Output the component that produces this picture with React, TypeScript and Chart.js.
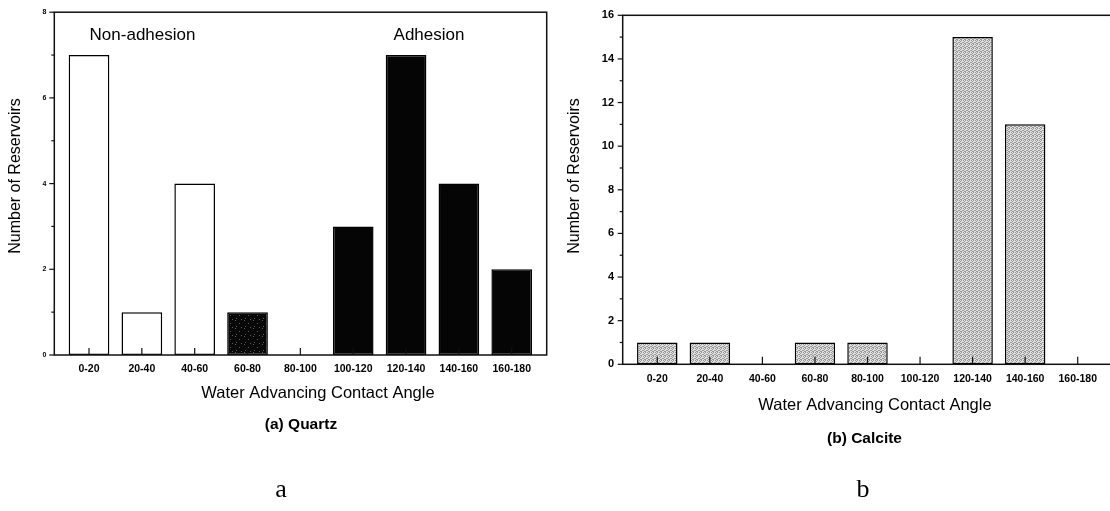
import { useEffect, useRef } from 'react';
import { Chart, registerables } from 'chart.js';

Chart.register(...registerables);

// Contact-angle bins shared by both panels
const angleBins = ['0-20', '20-40', '40-60', '60-80', '80-100', '100-120', '120-140', '140-160', '160-180'];

// Number of reservoirs per bin
const quartzCounts = [7, 1, 4, 1, 0, 3, 7, 4, 2];
const calciteCounts = [1, 1, 0, 1, 1, 0, 15, 11, 0];

// Wetting class of each quartz bin: open = non-adhesion, solid = adhesion, mixed = transitional
const quartzClass = ['open', 'open', 'open', 'mixed', 'open', 'solid', 'solid', 'solid', 'solid'];

const quartzYMax = 8;
const calciteYMax = 16;

const SANS = '"Liberation Sans", Arial, Helvetica, sans-serif';
const SERIF = '"Liberation Serif", "Times New Roman", serif';

function makePattern(w: number, h: number, base: string, dots: [number, number][], dot: string) {
  const c = document.createElement('canvas');
  c.width = w;
  c.height = h;
  const g = c.getContext('2d')!;
  g.fillStyle = base;
  g.fillRect(0, 0, w, h);
  g.fillStyle = dot;
  dots.forEach(([x, y]) => g.fillRect(x, y, 1, 1));
  return g.createPattern(c, 'repeat')!;
}

type TextItem = { text: string; x: number; y: number; font: string; rotate?: boolean; baseline?: CanvasTextBaseline };

type DecorCfg = {
  yMax: number;
  xTickLen: number;
  texts: TextItem[];
};

function makeDecor(cfg: DecorCfg) {
  return {
    id: 'panelDecor',
    afterDraw(chart: any) {
      const { ctx, chartArea } = chart;
      const xs = chart.scales.x;
      const ys = chart.scales.y;
      ctx.save();
      ctx.strokeStyle = '#111';
      ctx.lineWidth = 1.5;
      // frame around the plot
      ctx.strokeRect(chartArea.left, chartArea.top, chartArea.right - chartArea.left, chartArea.bottom - chartArea.top);
      // y tick marks: long at labelled values, short in between
      ctx.lineWidth = 1.2;
      for (let v = 0; v <= cfg.yMax; v++) {
        const py = ys.getPixelForValue(v);
        const len = v % 2 === 0 ? 5 : 3;
        ctx.beginPath();
        ctx.moveTo(chartArea.left - len, py);
        ctx.lineTo(chartArea.left, py);
        ctx.stroke();
      }
      // x tick marks pointing up into the plot at each bin centre
      angleBins.forEach((_, i) => {
        const px = xs.getPixelForValue(i);
        ctx.beginPath();
        ctx.moveTo(px, chartArea.bottom);
        ctx.lineTo(px, chartArea.bottom - cfg.xTickLen);
        ctx.stroke();
      });
      // annotations and captions
      ctx.fillStyle = '#000';
      ctx.textAlign = 'center';
      cfg.texts.forEach((t) => {
        ctx.font = t.font;
        ctx.textBaseline = t.baseline || 'middle';
        if (t.rotate) {
          ctx.save();
          ctx.translate(t.x, t.y);
          ctx.rotate(-Math.PI / 2);
          ctx.fillText(t.text, 0, 0);
          ctx.restore();
        } else {
          ctx.fillText(t.text, t.x, t.y);
        }
      });
      ctx.restore();
    },
  };
}

function baseOptions(p: {
  yMax: number;
  xMin: number;
  xMax: number;
  padTop: number;
  padRight: number;
  yWidth: number;
  xHeight: number;
  xPad: number;
  yPad: number;
  yFont: number;
  xFont: number;
}) {
  return {
    animation: false,
    responsive: false,
    maintainAspectRatio: false,
    layout: { padding: { left: 0, top: p.padTop, right: p.padRight, bottom: 0 } },
    plugins: { legend: { display: false }, tooltip: { enabled: false } },
    scales: {
      x: {
        type: 'linear',
        offset: false,
        min: p.xMin,
        max: p.xMax,
        afterFit: (s: any) => {
          s.height = p.xHeight;
        },
        grid: { display: false, drawTicks: false, offset: false },
        border: { display: false },
        ticks: {
          stepSize: 1,
          includeBounds: false,
          autoSkip: false,
          maxRotation: 0,
          padding: p.xPad,
          color: '#000',
          font: { family: SANS, size: p.xFont, weight: 'bold' },
          callback: (v: number) => (Number.isInteger(v) && v >= 0 && v < angleBins.length ? angleBins[v] : ''),
        },
      },
      y: {
        min: 0,
        max: p.yMax,
        afterFit: (s: any) => {
          s.width = p.yWidth;
        },
        grid: { display: false, drawTicks: false },
        border: { display: false },
        ticks: {
          stepSize: 1,
          autoSkip: false,
          padding: p.yPad,
          color: '#000',
          font: { family: SANS, size: p.yFont, weight: 'bold' },
          callback: (v: number) => (v % 2 === 0 ? String(v) : ''),
        },
      },
    },
  };
}

export default function App() {
  const leftRef = useRef<HTMLCanvasElement>(null);
  const rightRef = useRef<HTMLCanvasElement>(null);

  useEffect(() => {
    const white = '#ffffff';
    const black = '#050505';
    const darkSpeckle = makePattern(
      9,
      8,
      '#080808',
      [
        [1, 0],
        [5, 3],
        [2, 6],
        [7, 7],
      ],
      '#5a5a5a'
    );
    const stipple = makePattern(
      4,
      4,
      '#e2e2e2',
      [
        [0, 0],
        [2, 0],
        [1, 1],
        [3, 2],
        [0, 2],
        [2, 3],
        [1, 3],
      ],
      '#969696'
    );

    const quartzFill = quartzClass.map((c) => (c === 'open' ? white : c === 'solid' ? black : darkSpeckle));

    const left = new Chart(leftRef.current!, {
      type: 'bar',
      data: {
        datasets: [
          {
            data: quartzCounts.map((v, i) => ({ x: i, y: v })),
            backgroundColor: quartzFill,
            borderColor: '#000',
            borderWidth: 1.5,
            borderSkipped: false,
            barPercentage: 0.77,
            categoryPercentage: 1,
          },
        ],
      },
      options: baseOptions({
        yMax: quartzYMax,
        xMin: -0.657,
        xMax: 8.662,
        padTop: 12,
        padRight: 8.3,
        yWidth: 54.3,
        xHeight: 511 - 355,
        xPad: 7.5,
        yPad: 8,
        yFont: 7,
        xFont: 10.5,
      }) as any,
      plugins: [
        makeDecor({
          yMax: quartzYMax,
          xTickLen: 7,
          texts: [
            { text: 'Non-adhesion', x: 142.5, y: 35, font: `17px ${SANS}` },
            { text: 'Adhesion', x: 429, y: 35, font: `17px ${SANS}` },
            { text: 'Water Advancing Contact Angle', x: 318, y: 393, font: `16.5px ${SANS}` },
            { text: '(a) Quartz', x: 301, y: 425, font: `bold 15.5px ${SANS}` },
            { text: 'Number of Reservoirs', x: 16, y: 176, font: `16px ${SANS}`, rotate: true },
            { text: 'a', x: 281, y: 497, font: `26px ${SERIF}`, baseline: 'alphabetic' },
          ],
        }),
      ],
    });

    const right = new Chart(rightRef.current!, {
      type: 'bar',
      data: {
        datasets: [
          {
            data: calciteCounts.map((v, i) => ({ x: i, y: v })),
            backgroundColor: stipple,
            borderColor: '#000',
            borderWidth: 1.5,
            borderSkipped: false,
            barPercentage: 0.77,
            categoryPercentage: 1,
          },
        ],
      },
      options: baseOptions({
        yMax: calciteYMax,
        xMin: -0.658,
        xMax: 8.66,
        padTop: 8,
        padRight: 12.6,
        yWidth: 67.7,
        xHeight: 511 - 364.3,
        xPad: 9,
        yPad: 8.7,
        yFont: 11,
        xFont: 10.5,
      }) as any,
      plugins: [
        makeDecor({
          yMax: calciteYMax,
          xTickLen: 7.5,
          texts: [
            { text: 'Water Advancing Contact Angle', x: 320, y: 405, font: `16.5px ${SANS}` },
            { text: '(b) Calcite', x: 309.5, y: 439, font: `bold 15.5px ${SANS}` },
            { text: 'Number of Reservoirs', x: 20, y: 176, font: `16px ${SANS}`, rotate: true },
            { text: 'b', x: 308, y: 497, font: `26px ${SERIF}`, baseline: 'alphabetic' },
          ],
        }),
      ],
    });

    return () => {
      left.destroy();
      right.destroy();
    };
  }, []);

  return (
    <div
      style={{
        position: 'fixed',
        left: 0,
        top: 0,
        width: 1110,
        height: 511,
        overflow: 'hidden',
        background: '#fff',
      }}
    >
      <canvas ref={leftRef} width={555} height={511} style={{ position: 'absolute', left: 0, top: 0, width: 555, height: 511 }} />
      <canvas ref={rightRef} width={570} height={511} style={{ position: 'absolute', left: 555, top: 0, width: 570, height: 511 }} />
    </div>
  );
}
